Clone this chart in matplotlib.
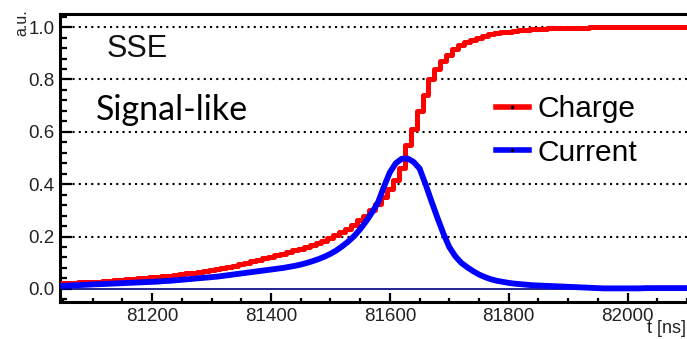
import numpy as np
import matplotlib.pyplot as plt
from matplotlib.ticker import MultipleLocator, FormatStrFormatter

# time bins [ns], 10 ns spacing
t = np.arange(81050, 82101, 10)

# normalised charge (step histogram)
charge = [0.022, 0.023, 0.024, 0.025, 0.026, 0.027, 0.028, 0.030, 0.031, 0.033,
          0.035, 0.036, 0.038, 0.040, 0.042, 0.044, 0.046, 0.048, 0.051, 0.053,
          0.056, 0.059, 0.062, 0.065, 0.068, 0.072, 0.076, 0.080, 0.084, 0.089,
          0.094, 0.099, 0.105, 0.111, 0.117, 0.123, 0.129, 0.135, 0.141, 0.147,
          0.153, 0.160, 0.167, 0.175, 0.184, 0.194, 0.205, 0.217, 0.230, 0.245,
          0.262, 0.280, 0.300, 0.323, 0.350, 0.380, 0.415, 0.460, 0.550, 0.610,
          0.680, 0.740, 0.800, 0.840, 0.870, 0.895, 0.915, 0.930, 0.942, 0.952,
          0.960, 0.966, 0.972, 0.976, 0.980, 0.983, 0.986, 0.988, 0.990, 0.992,
          0.993, 0.994, 0.995, 0.996, 0.997, 0.997, 0.998, 0.998, 0.998, 0.999,
          0.999, 0.999, 0.999, 0.999, 1.000, 1.000, 1.000, 1.000, 1.000, 1.000,
          1.000, 1.000, 1.000, 1.000, 1.000, 1.000]

# normalised current
current = [0.012, 0.013, 0.014, 0.015, 0.016, 0.017, 0.018, 0.019, 0.020, 0.021,
           0.022, 0.023, 0.024, 0.025, 0.026, 0.027, 0.028, 0.030, 0.031, 0.033,
           0.035, 0.037, 0.039, 0.041, 0.043, 0.045, 0.047, 0.050, 0.053, 0.056,
           0.059, 0.062, 0.065, 0.068, 0.071, 0.074, 0.077, 0.080, 0.084, 0.088,
           0.093, 0.099, 0.106, 0.114, 0.123, 0.134, 0.147, 0.163, 0.181, 0.202,
           0.228, 0.258, 0.292, 0.330, 0.390, 0.445, 0.480, 0.497, 0.498, 0.485,
           0.460, 0.400, 0.335, 0.272, 0.212, 0.160, 0.125, 0.100, 0.083, 0.068,
           0.055, 0.045, 0.037, 0.031, 0.027, 0.023, 0.020, 0.018, 0.016, 0.014,
           0.013, 0.012, 0.011, 0.010, 0.009, 0.008, 0.007, 0.006, 0.005, 0.004,
           0.003, 0.002, 0.002, 0.002, 0.002, 0.002, 0.002, 0.002, 0.003, 0.003,
           0.003, 0.003, 0.003, 0.003, 0.003, 0.003]

ytick_vals = [0.0, 0.2, 0.4, 0.6, 0.8, 1.0]
xtick_vals = [81200, 81400, 81600, 81800, 82000]

plt.rcParams['font.family'] = ['Liberation Sans', 'DejaVu Sans']

fig = plt.figure(figsize=(6.87, 3.39), dpi=100)
ax = fig.add_axes([60 / 687, 1 - 302 / 339, 1 - 60 / 687, (302 - 14) / 339])

# dotted horizontal grid
for v in ytick_vals[1:]:
    ax.axhline(v, color='black', lw=1.5, ls=(0, (1, 2)), zorder=1)
ax.axhline(0.0, color='#000080', lw=1.2, zorder=2)

lns1 = ax.step(t, charge, where='mid', color='#ff0000', lw=3.6, label='Charge', zorder=3)
lns2 = ax.plot(t, current, color='#0000ff', lw=4.2, label='Current', zorder=4)

ax.set_xlim(81045, 82100)
ax.set_ylim(-0.05, 1.05)
ax.set_xticks(xtick_vals)
ax.set_yticks(ytick_vals)
ax.yaxis.set_major_formatter(FormatStrFormatter('%.1f'))
ax.xaxis.set_minor_locator(MultipleLocator(50))
ax.yaxis.set_minor_locator(MultipleLocator(0.04))

ax.tick_params(axis='both', which='both', direction='in', colors='black',
               labelcolor='#222222', labelsize=13.5, width=1.6)
ax.tick_params(axis='y', which='major', length=8.5, pad=4)
ax.tick_params(axis='y', which='minor', length=5)
ax.tick_params(axis='x', which='major', length=6.5, pad=4)
ax.tick_params(axis='x', which='minor', length=3)

for s in ['left', 'bottom', 'top']:
    ax.spines[s].set_linewidth(2.2)
ax.spines['right'].set_visible(False)

fig.text(22 / 687, 1 - 9 / 339, 'a.u.', rotation=90, ha='center', va='top',
         fontsize=11.5, color='#222222')
fig.text(686 / 687, 2 / 339, 't [ns]', ha='right', va='bottom',
         fontsize=13, color='#222222')

ax.text(0.075, 0.88, 'SSE', transform=ax.transAxes, fontsize=22,
        ha='left', va='center', color='#111111')
ax.text(0.057, 0.665, 'Signal-like', transform=ax.transAxes, fontsize=24.5,
        family=['Lato', 'DejaVu Sans'], ha='left', va='center', color='black')

leg = ax.legend(loc='upper left', bbox_to_anchor=(496 / 687, 1 - 95 / 339),
                bbox_transform=fig.transFigure, frameon=False, fontsize=21.5,
                handlelength=1.1, handletextpad=0.3, labelspacing=0.53,
                borderpad=0, borderaxespad=0)
for h in leg.legend_handles:
    h.set_linewidth(4)
    h.set_marker('s')
    h.set_markersize(1.5)
    h.set_markerfacecolor('black')
    h.set_markeredgecolor('black')

fig.savefig('out.png', dpi=100)
